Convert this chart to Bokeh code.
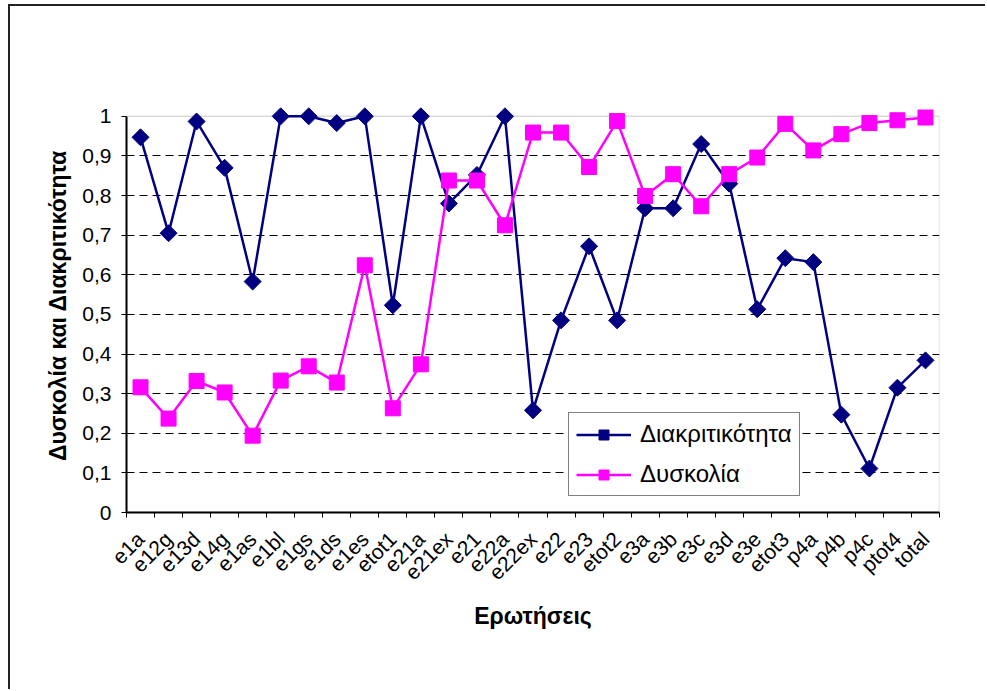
import math
from bokeh.plotting import figure
from bokeh.models import (Range1d, LinearAxis, FixedTicker, Legend, LegendItem,
                          BoxAnnotation, Grid, ColumnDataSource)
from bokeh.embed import file_html
from bokeh.resources import INLINE

# ---------------- data ----------------
categories = ["e1a", "e12g", "e13d", "e14g", "e1as", "e1bl", "e1gs", "e1ds", "e1es", "etot1",
              "e21a", "e21ex", "e21", "e22a", "e22ex", "e22", "e23", "etot2", "e3a", "e3b",
              "e3c", "e3d", "e3e", "etot3", "p4a", "p4b", "p4c", "ptot4", "total"]
discrimination = [0.947, 0.705, 0.987, 0.870, 0.583, 1.000, 1.000, 0.983, 1.000, 0.523,
                  1.000, 0.780, 0.852, 1.000, 0.258, 0.485, 0.672, 0.485, 0.768, 0.768,
                  0.930, 0.830, 0.513, 0.642, 0.632, 0.247, 0.111, 0.315, 0.384]
difficulty = [0.316, 0.237, 0.332, 0.303, 0.194, 0.333, 0.369, 0.328, 0.624, 0.263,
              0.374, 0.838, 0.838, 0.725, 0.959, 0.959, 0.872, 0.988, 0.799, 0.854,
              0.773, 0.854, 0.896, 0.981, 0.914, 0.955, 0.983, 0.990, 0.997]
y_ticks = [0.0, 0.1, 0.2, 0.3, 0.4, 0.5, 0.6, 0.7, 0.8, 0.9, 1.0]
y_tick_labels = ["0", "0,1", "0,2", "0,3", "0,4", "0,5", "0,6", "0,7", "0,8", "0,9", "1"]
series_names = ["Διακριτικότητα", "Δυσκολία"]
x_title = "Ερωτήσεις"
y_title = "Δυσκολία και Διακριτικότητα"

FONT = "Liberation Sans"
NAVY = "#000080"
MAGENTA = "#FF00FF"

n = len(categories)
# each category occupies one slot; its point sits in the slot centre
centers = [i + 0.5 for i in range(n)]
bounds = [float(i) for i in range(n + 1)]

src = ColumnDataSource(dict(x=centers, cat=categories, disc=discrimination, diff=difficulty))

# canvas sits at (10, 6) inside the page because of the outer chart border
p = figure(width=977, height=685, output_backend="svg", toolbar_location=None,
           x_range=Range1d(0, n), y_range=Range1d(0, 1.045),
           x_axis_location=None, y_axis_location=None,
           min_border_left=116, min_border_right=48, min_border_top=92, min_border_bottom=179)
p.styles = {"margin-left": "8px", "margin-top": "4px",
            "border-left": "2px solid #222222", "border-top": "2px solid #222222"}
p.outline_line_color = None
p.background_fill_color = "white"
p.border_fill_color = "white"
for g in p.grid:
    g.visible = False

# plot-area border
p.add_layout(BoxAnnotation(left=0, right=n, bottom=0, top=1,
                           fill_alpha=0, line_color="#808080", line_width=1.5,
                           level="underlay"))

# gridlines
grid = Grid(dimension=1, ticker=FixedTicker(ticks=y_ticks[1:-1]),
            grid_line_color="black", grid_line_dash="8 5", grid_line_width=1)
p.add_layout(grid)

# y axis
yaxis = LinearAxis(ticker=FixedTicker(ticks=y_ticks), bounds=(0, 1),
                   axis_label=y_title)
yaxis.major_label_overrides = dict(zip(y_ticks, y_tick_labels))
yaxis.axis_line_color = "black"
yaxis.axis_line_width = 2
yaxis.major_tick_line_color = "black"
yaxis.major_tick_out = 5
yaxis.major_tick_in = 0
yaxis.minor_tick_line_color = None
yaxis.major_label_standoff = 10
yaxis.major_label_text_font = FONT
yaxis.major_label_text_font_size = "21px"
yaxis.major_label_text_color = "black"
yaxis.axis_label_text_font = FONT
yaxis.axis_label_text_font_size = "23px"
yaxis.axis_label_text_font_style = "bold"
yaxis.axis_label_text_color = "black"
yaxis.axis_label_standoff = 8
p.add_layout(yaxis, "left")

# x axis (labels at slot centres, tick marks at slot boundaries)
xaxis = LinearAxis(ticker=FixedTicker(ticks=centers, minor_ticks=bounds),
                   axis_label=x_title)
xaxis.major_label_overrides = dict(zip(centers, categories))
xaxis.axis_line_color = "black"
xaxis.axis_line_width = 2
xaxis.major_tick_line_color = None
xaxis.major_tick_out = 5
xaxis.major_tick_in = 0
xaxis.minor_tick_line_color = "black"
xaxis.minor_tick_out = 5
xaxis.minor_tick_in = 0
xaxis.major_label_orientation = math.pi / 4
xaxis.major_label_standoff = 18
xaxis.major_label_text_baseline = "top"
xaxis.major_label_text_font = FONT
xaxis.major_label_text_font_size = "21px"
xaxis.major_label_text_color = "black"
xaxis.axis_label_text_font = FONT
xaxis.axis_label_text_font_size = "23px"
xaxis.axis_label_text_font_style = "bold"
xaxis.axis_label_text_color = "black"
xaxis.axis_label_standoff = 8
p.add_layout(xaxis, "below")

# series
l1 = p.line("x", "disc", source=src, line_color=NAVY, line_width=2.5)
s1 = p.scatter("x", "disc", source=src, marker="square", angle=math.pi / 4, size=12,
               fill_color=NAVY, line_color=NAVY)
l2 = p.line("x", "diff", source=src, line_color=MAGENTA, line_width=2.5)
s2 = p.scatter("x", "diff", source=src, marker="square", size=15,
               fill_color=MAGENTA, line_color=MAGENTA)

legend = Legend(items=[LegendItem(label=series_names[0], renderers=[l1, s1]),
                       LegendItem(label=series_names[1], renderers=[l2, s2])],
                location=(442, 16), margin=0, padding=7, spacing=12,
                glyph_width=55, glyph_height=25, label_height=25, label_standoff=9,
                label_text_font=FONT, label_text_font_size="24px", label_text_color="black",
                border_line_color="black", border_line_width=1.5,
                background_fill_color="white", background_fill_alpha=1)
p.add_layout(legend)

with open("out.html", "w") as f:
    f.write(file_html(p, INLINE))
